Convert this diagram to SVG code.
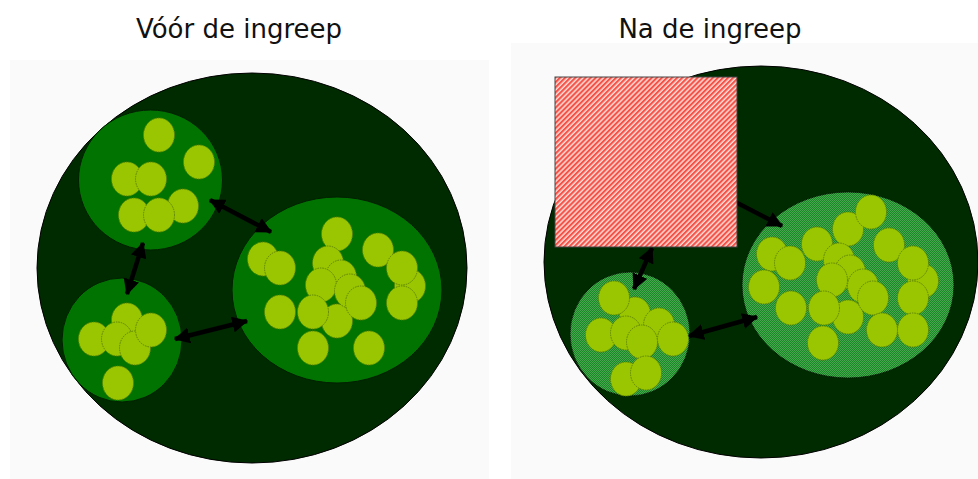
<svg xmlns="http://www.w3.org/2000/svg" width="978" height="479" viewBox="0 0 978 479">
<defs>
<style>
.title{font-family:"DejaVu Sans","Verdana",sans-serif;font-size:26px;fill:#111;text-anchor:middle}
.bg{fill:#fafafa}
.outer{fill:#002a00;stroke:#000;stroke-width:1}
.mid{fill:#007300;stroke:#002000;stroke-width:1}
.midh{fill:#178a22;stroke:#002000;stroke-width:1}
.dots{fill:url(#checker);fill-opacity:0.22;stroke:none}
.cell{fill:#99c600;stroke:#5f8200;stroke-width:1;stroke-dasharray:1.5 1}
.conn{stroke:#000;stroke-width:4.5;fill:none}
.wound{fill:url(#hatch);stroke:#444;stroke-width:1}
</style>
<pattern id="checker" width="2" height="2" patternUnits="userSpaceOnUse">
<rect x="0" y="0" width="1" height="1" fill="#ffffff" shape-rendering="crispEdges"/>
<rect x="1" y="1" width="1" height="1" fill="#ffffff" shape-rendering="crispEdges"/>
</pattern>
<pattern id="hatch" width="3.6" height="3.6" patternUnits="userSpaceOnUse" patternTransform="rotate(45)">
<rect width="3.6" height="3.6" fill="#ffdcd8"/>
<rect width="2.1" height="3.6" fill="#f55248"/>
</pattern>
<marker id="ah" viewBox="0 0 12 12" refX="11" refY="6" markerWidth="16" markerHeight="16" markerUnits="userSpaceOnUse" orient="auto-start-reverse">
<path d="M0,0 L12,6 L0,12 z" fill="#000"/>
</marker>
</defs>

<rect class="bg" x="10" y="60" width="479" height="419"/>
<rect class="bg" x="511" y="43" width="467" height="436"/>

<text class="title" x="239" y="38">Vóór de ingreep</text>
<text class="title" x="710" y="38">Na de ingreep</text>

<!-- LEFT: before -->
<g id="before-tissue">
<ellipse class="outer" cx="252" cy="268" rx="215" ry="195"/>
</g>
<g id="before-cluster-top">
<ellipse class="mid" cx="150.5" cy="180" rx="72" ry="70"/>
<ellipse class="cell" cx="159" cy="135" rx="15.5" ry="17"/>
<ellipse class="cell" cx="199" cy="162" rx="15.5" ry="17"/>
<ellipse class="cell" cx="127" cy="179" rx="15.5" ry="17"/>
<ellipse class="cell" cx="151" cy="179" rx="15.5" ry="17"/>
<ellipse class="cell" cx="183" cy="206" rx="15.5" ry="17"/>
<ellipse class="cell" cx="134" cy="215" rx="15.5" ry="17"/>
<ellipse class="cell" cx="159" cy="215" rx="15.5" ry="17"/>
</g>
<g id="before-cluster-bottom">
<ellipse class="mid" cx="122" cy="340" rx="60" ry="62"/>
<ellipse class="cell" cx="127" cy="320" rx="15.5" ry="17"/>
<ellipse class="cell" cx="94" cy="339" rx="15.5" ry="17"/>
<ellipse class="cell" cx="117" cy="339" rx="15.5" ry="17"/>
<ellipse class="cell" cx="135" cy="348" rx="15.5" ry="17"/>
<ellipse class="cell" cx="151" cy="330" rx="15.5" ry="17"/>
<ellipse class="cell" cx="118" cy="383" rx="15.5" ry="17"/>
</g>
<g id="before-cluster-right">
<ellipse class="mid" cx="337" cy="290" rx="105" ry="93"/>
<ellipse class="cell" cx="337" cy="234" rx="15.5" ry="17"/>
<ellipse class="cell" cx="378" cy="250" rx="15.5" ry="17"/>
<ellipse class="cell" cx="263" cy="259" rx="15.5" ry="17"/>
<ellipse class="cell" cx="280" cy="268" rx="15.5" ry="17"/>
<ellipse class="cell" cx="328" cy="263" rx="15.5" ry="17"/>
<ellipse class="cell" cx="341" cy="277" rx="15.5" ry="17"/>
<ellipse class="cell" cx="337" cy="321" rx="15.5" ry="17"/>
<ellipse class="cell" cx="321" cy="285" rx="15.5" ry="17"/>
<ellipse class="cell" cx="350" cy="291" rx="15.5" ry="17"/>
<ellipse class="cell" cx="361" cy="303" rx="15.5" ry="17"/>
<ellipse class="cell" cx="313" cy="312" rx="15.5" ry="17"/>
<ellipse class="cell" cx="280" cy="312" rx="15.5" ry="17"/>
<ellipse class="cell" cx="410" cy="286" rx="15.5" ry="17"/>
<ellipse class="cell" cx="402" cy="268" rx="15.5" ry="17"/>
<ellipse class="cell" cx="402" cy="303" rx="15.5" ry="17"/>
<ellipse class="cell" cx="313" cy="348" rx="15.5" ry="17"/>
<ellipse class="cell" cx="369" cy="348" rx="15.5" ry="17"/>
</g>

<!-- RIGHT: after -->
<g id="after-tissue">
<ellipse class="outer" cx="761" cy="262" rx="217" ry="196"/>
</g>
<g id="after-cluster-bottom">
<ellipse class="midh" cx="630" cy="334" rx="60" ry="62"/>
<ellipse class="dots" cx="630" cy="334" rx="60" ry="62"/>
<ellipse class="cell" cx="635" cy="314" rx="15.5" ry="17"/>
<ellipse class="cell" cx="614" cy="298" rx="15.5" ry="17"/>
<ellipse class="cell" cx="601" cy="335" rx="15.5" ry="17"/>
<ellipse class="cell" cx="626" cy="333" rx="15.5" ry="17"/>
<ellipse class="cell" cx="659" cy="325" rx="15.5" ry="17"/>
<ellipse class="cell" cx="642" cy="342" rx="15.5" ry="17"/>
<ellipse class="cell" cx="673" cy="339" rx="15.5" ry="17"/>
<ellipse class="cell" cx="626" cy="379" rx="15.5" ry="17"/>
<ellipse class="cell" cx="646" cy="373" rx="15.5" ry="17"/>
</g>
<g id="after-cluster-right">
<ellipse class="midh" cx="848" cy="285" rx="106" ry="93"/>
<ellipse class="dots" cx="848" cy="285" rx="106" ry="93"/>
<ellipse class="cell" cx="848" cy="229" rx="15.5" ry="17"/>
<ellipse class="cell" cx="871" cy="212" rx="15.5" ry="17"/>
<ellipse class="cell" cx="889" cy="245" rx="15.5" ry="17"/>
<ellipse class="cell" cx="817" cy="244" rx="15.5" ry="17"/>
<ellipse class="cell" cx="772" cy="254" rx="15.5" ry="17"/>
<ellipse class="cell" cx="790" cy="263" rx="15.5" ry="17"/>
<ellipse class="cell" cx="839" cy="260" rx="15.5" ry="17"/>
<ellipse class="cell" cx="850" cy="272" rx="15.5" ry="17"/>
<ellipse class="cell" cx="848" cy="317" rx="15.5" ry="17"/>
<ellipse class="cell" cx="832" cy="280" rx="15.5" ry="17"/>
<ellipse class="cell" cx="863" cy="286" rx="15.5" ry="17"/>
<ellipse class="cell" cx="873" cy="298" rx="15.5" ry="17"/>
<ellipse class="cell" cx="923" cy="281" rx="15.5" ry="17"/>
<ellipse class="cell" cx="913" cy="263" rx="15.5" ry="17"/>
<ellipse class="cell" cx="913" cy="298" rx="15.5" ry="17"/>
<ellipse class="cell" cx="764" cy="287" rx="15.5" ry="17"/>
<ellipse class="cell" cx="791" cy="308" rx="15.5" ry="17"/>
<ellipse class="cell" cx="824" cy="308" rx="15.5" ry="17"/>
<ellipse class="cell" cx="882" cy="330" rx="15.5" ry="17"/>
<ellipse class="cell" cx="913" cy="330" rx="15.5" ry="17"/>
<ellipse class="cell" cx="823" cy="343" rx="15.5" ry="17"/>
</g>

<g id="connectors">
<line class="conn" x1="210" y1="200" x2="271" y2="232" marker-start="url(#ah)" marker-end="url(#ah)"/>
<line class="conn" x1="143" y1="243" x2="127" y2="294" marker-start="url(#ah)" marker-end="url(#ah)"/>
<line class="conn" x1="175" y1="339" x2="247" y2="321" marker-start="url(#ah)" marker-end="url(#ah)"/>
<line class="conn" x1="720" y1="194" x2="782" y2="226" marker-end="url(#ah)"/>
<line class="conn" x1="652" y1="248" x2="634" y2="289" marker-start="url(#ah)" marker-end="url(#ah)"/>
<line class="conn" x1="689" y1="336" x2="757" y2="317" marker-start="url(#ah)" marker-end="url(#ah)"/>
</g>

<g id="wound">
<rect class="wound" x="555" y="77" width="182" height="170"/>
</g>
</svg>
